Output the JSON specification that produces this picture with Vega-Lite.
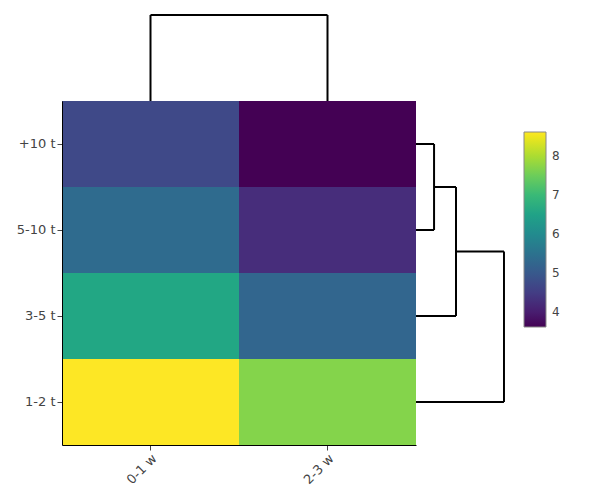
{
  "$schema": "https://vega.github.io/schema/vega-lite/v6.json",
  "autosize": "none",
  "width": 354,
  "height": 344,
  "padding": {"left": 62, "top": 101, "right": 182, "bottom": 42},
  "background": "white",
  "config": {
    "view": {"stroke": null},
    "font": "DejaVu Sans",
    "axis": {"labelFont": "DejaVu Sans", "labelFontSize": 13, "labelColor": "#444", "tickColor": "#444", "tickSize": 5, "domainColor": "black", "domainWidth": 1, "grid": false, "title": null, "labelPadding": 2},
    "legend": {"labelFont": "DejaVu Sans", "labelFontSize": 12, "labelColor": "#444"}
  },
  "layer": [
    {
      "data": {"values": [
        {"t": "+10 t", "w": "0-1 w", "v": 4.7},
        {"t": "+10 t", "w": "2-3 w", "v": 3.62},
        {"t": "5-10 t", "w": "0-1 w", "v": 5.35},
        {"t": "5-10 t", "w": "2-3 w", "v": 4.25},
        {"t": "3-5 t", "w": "0-1 w", "v": 6.6},
        {"t": "3-5 t", "w": "2-3 w", "v": 5.25},
        {"t": "1-2 t", "w": "0-1 w", "v": 8.62},
        {"t": "1-2 t", "w": "2-3 w", "v": 7.7}
      ]},
      "mark": {"type": "rect"},
      "encoding": {
        "x": {"field": "w", "type": "nominal", "sort": ["0-1 w", "2-3 w"], "scale": {"paddingInner": 0, "paddingOuter": 0}, "axis": {"labelAngle": -45, "orient": "bottom"}},
        "y": {"field": "t", "type": "nominal", "sort": ["+10 t", "5-10 t", "3-5 t", "1-2 t"], "scale": {"paddingInner": 0, "paddingOuter": 0}, "axis": {"orient": "left"}},
        "color": {"field": "v", "type": "quantitative", "scale": {"scheme": "viridis", "domain": [3.62, 8.62]},
          "legend": {"title": null, "orient": "none", "legendX": 462, "legendY": 31, "gradientLength": 195, "gradientThickness": 22, "gradientStrokeColor": "#888", "gradientStrokeWidth": 1, "values": [4, 5, 6, 7, 8], "labelOffset": 6}}
      }
    },
    {
      "data": {"values": [
        {"x": 0.5, "x2": 0.5, "y": 4, "y2": 5},
        {"x": 1.5, "x2": 1.5, "y": 4, "y2": 5},
        {"x": 0.5, "x2": 1.5, "y": 5, "y2": 5},
        {"x": 2, "x2": 2.102, "y": 3.5, "y2": 3.5},
        {"x": 2, "x2": 2.102, "y": 2.5, "y2": 2.5},
        {"x": 2.102, "x2": 2.102, "y": 2.5, "y2": 3.5},
        {"x": 2.102, "x2": 2.226, "y": 3.0, "y2": 3.0},
        {"x": 2, "x2": 2.226, "y": 1.5, "y2": 1.5},
        {"x": 2.226, "x2": 2.226, "y": 1.5, "y2": 3.0},
        {"x": 2.226, "x2": 2.497, "y": 2.25, "y2": 2.25},
        {"x": 2, "x2": 2.497, "y": 0.5, "y2": 0.5},
        {"x": 2.497, "x2": 2.497, "y": 0.5, "y2": 2.25}
      ]},
      "mark": {"type": "rule", "color": "black", "strokeWidth": 2, "clip": false},
      "encoding": {
        "x": {"field": "x", "type": "quantitative", "scale": {"domain": [0, 2], "nice": false, "zero": false}, "axis": null},
        "x2": {"field": "x2"},
        "y": {"field": "y", "type": "quantitative", "scale": {"domain": [0, 4], "nice": false, "zero": false}, "axis": null},
        "y2": {"field": "y2"}
      }
    }
  ],
  "resolve": {"scale": {"x": "independent", "y": "independent"}, "axis": {"x": "independent", "y": "independent"}}
}
